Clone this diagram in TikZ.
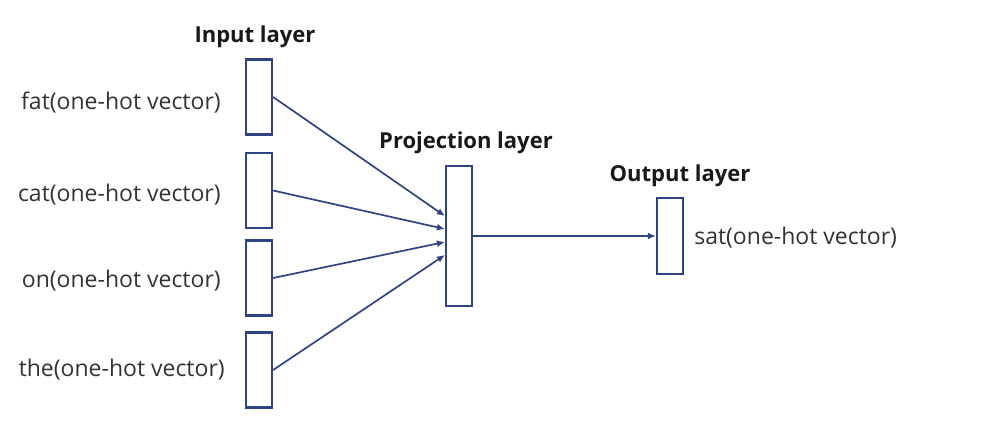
\documentclass[tikz,border=0pt]{standalone}
\usepackage{fontspec}
\setmainfont{Open Sans}
\usetikzlibrary{positioning,arrows.meta,calc}
\definecolor{navy}{RGB}{47,68,128}
\tikzset{
  layer/.style={draw=navy, line width=2.2pt, fill=white, minimum width=26pt, inner sep=0pt},
  word/.style={text=black!80, inner sep=0pt, font=\fontsize{23}{26}\selectfont},
  title/.style={text=black!90, inner sep=0pt, font=\bfseries\fontsize{22}{26}\selectfont},
  link/.style={navy, line width=1.7pt, -{Latex[length=8pt,width=7pt]}}
}
\begin{document}
\begin{tikzpicture}[x=1pt,y=-1pt]
    \useasboundingbox (0,0) rectangle (988,440);
    % Input layer
    \node[layer, minimum height=75pt] (fat) at (259,97) {};
    \node[layer, minimum height=75pt] (cat) at (259,190.5) {};
    \node[layer, minimum height=75pt] (on) at (259,278) {};
    \node[layer, minimum height=75pt] (the) at (259,370) {};
    \node[title, above=10pt of fat, xshift=-4pt] (intitle) {Input layer};
    \node[word, left=24pt of fat, yshift=-6pt] (fatlbl) {fat(one-hot vector)};
    \node[word, left=24pt of cat, yshift=-4pt] (catlbl) {cat(one-hot vector)};
    \node[word, left=24pt of on, yshift=-3pt] (onlbl) {on(one-hot vector)};
    \node[word, left=20pt of the] (thelbl) {the(one-hot vector)};
    % Projection layer
    \node[layer, minimum height=140pt] (proj) at (459,236) {};
    \node[title, above=11pt of proj, xshift=7pt] (projtitle) {Projection layer};
    % Output layer
    \node[layer, minimum height=76pt] (out) at (670,236) {};
    \node[title, above=10pt of out, xshift=10pt] (outtitle) {Output layer};
    \node[word, right=10pt of out, yshift=-2pt] (satlbl) {sat(one-hot vector)};
    % Connections
    \draw[link] (fat.east) -- ($(proj.west)+(0,-20)$);
    \draw[link] (cat.east) -- ($(proj.west)+(0,-7)$);
    \draw[link] (on.east) -- ($(proj.west)+(0,6)$);
    \draw[link] (the.east) -- ($(proj.west)+(0,19)$);
    \draw[link] (proj.east) -- (out.west);
\end{tikzpicture}
\end{document}
